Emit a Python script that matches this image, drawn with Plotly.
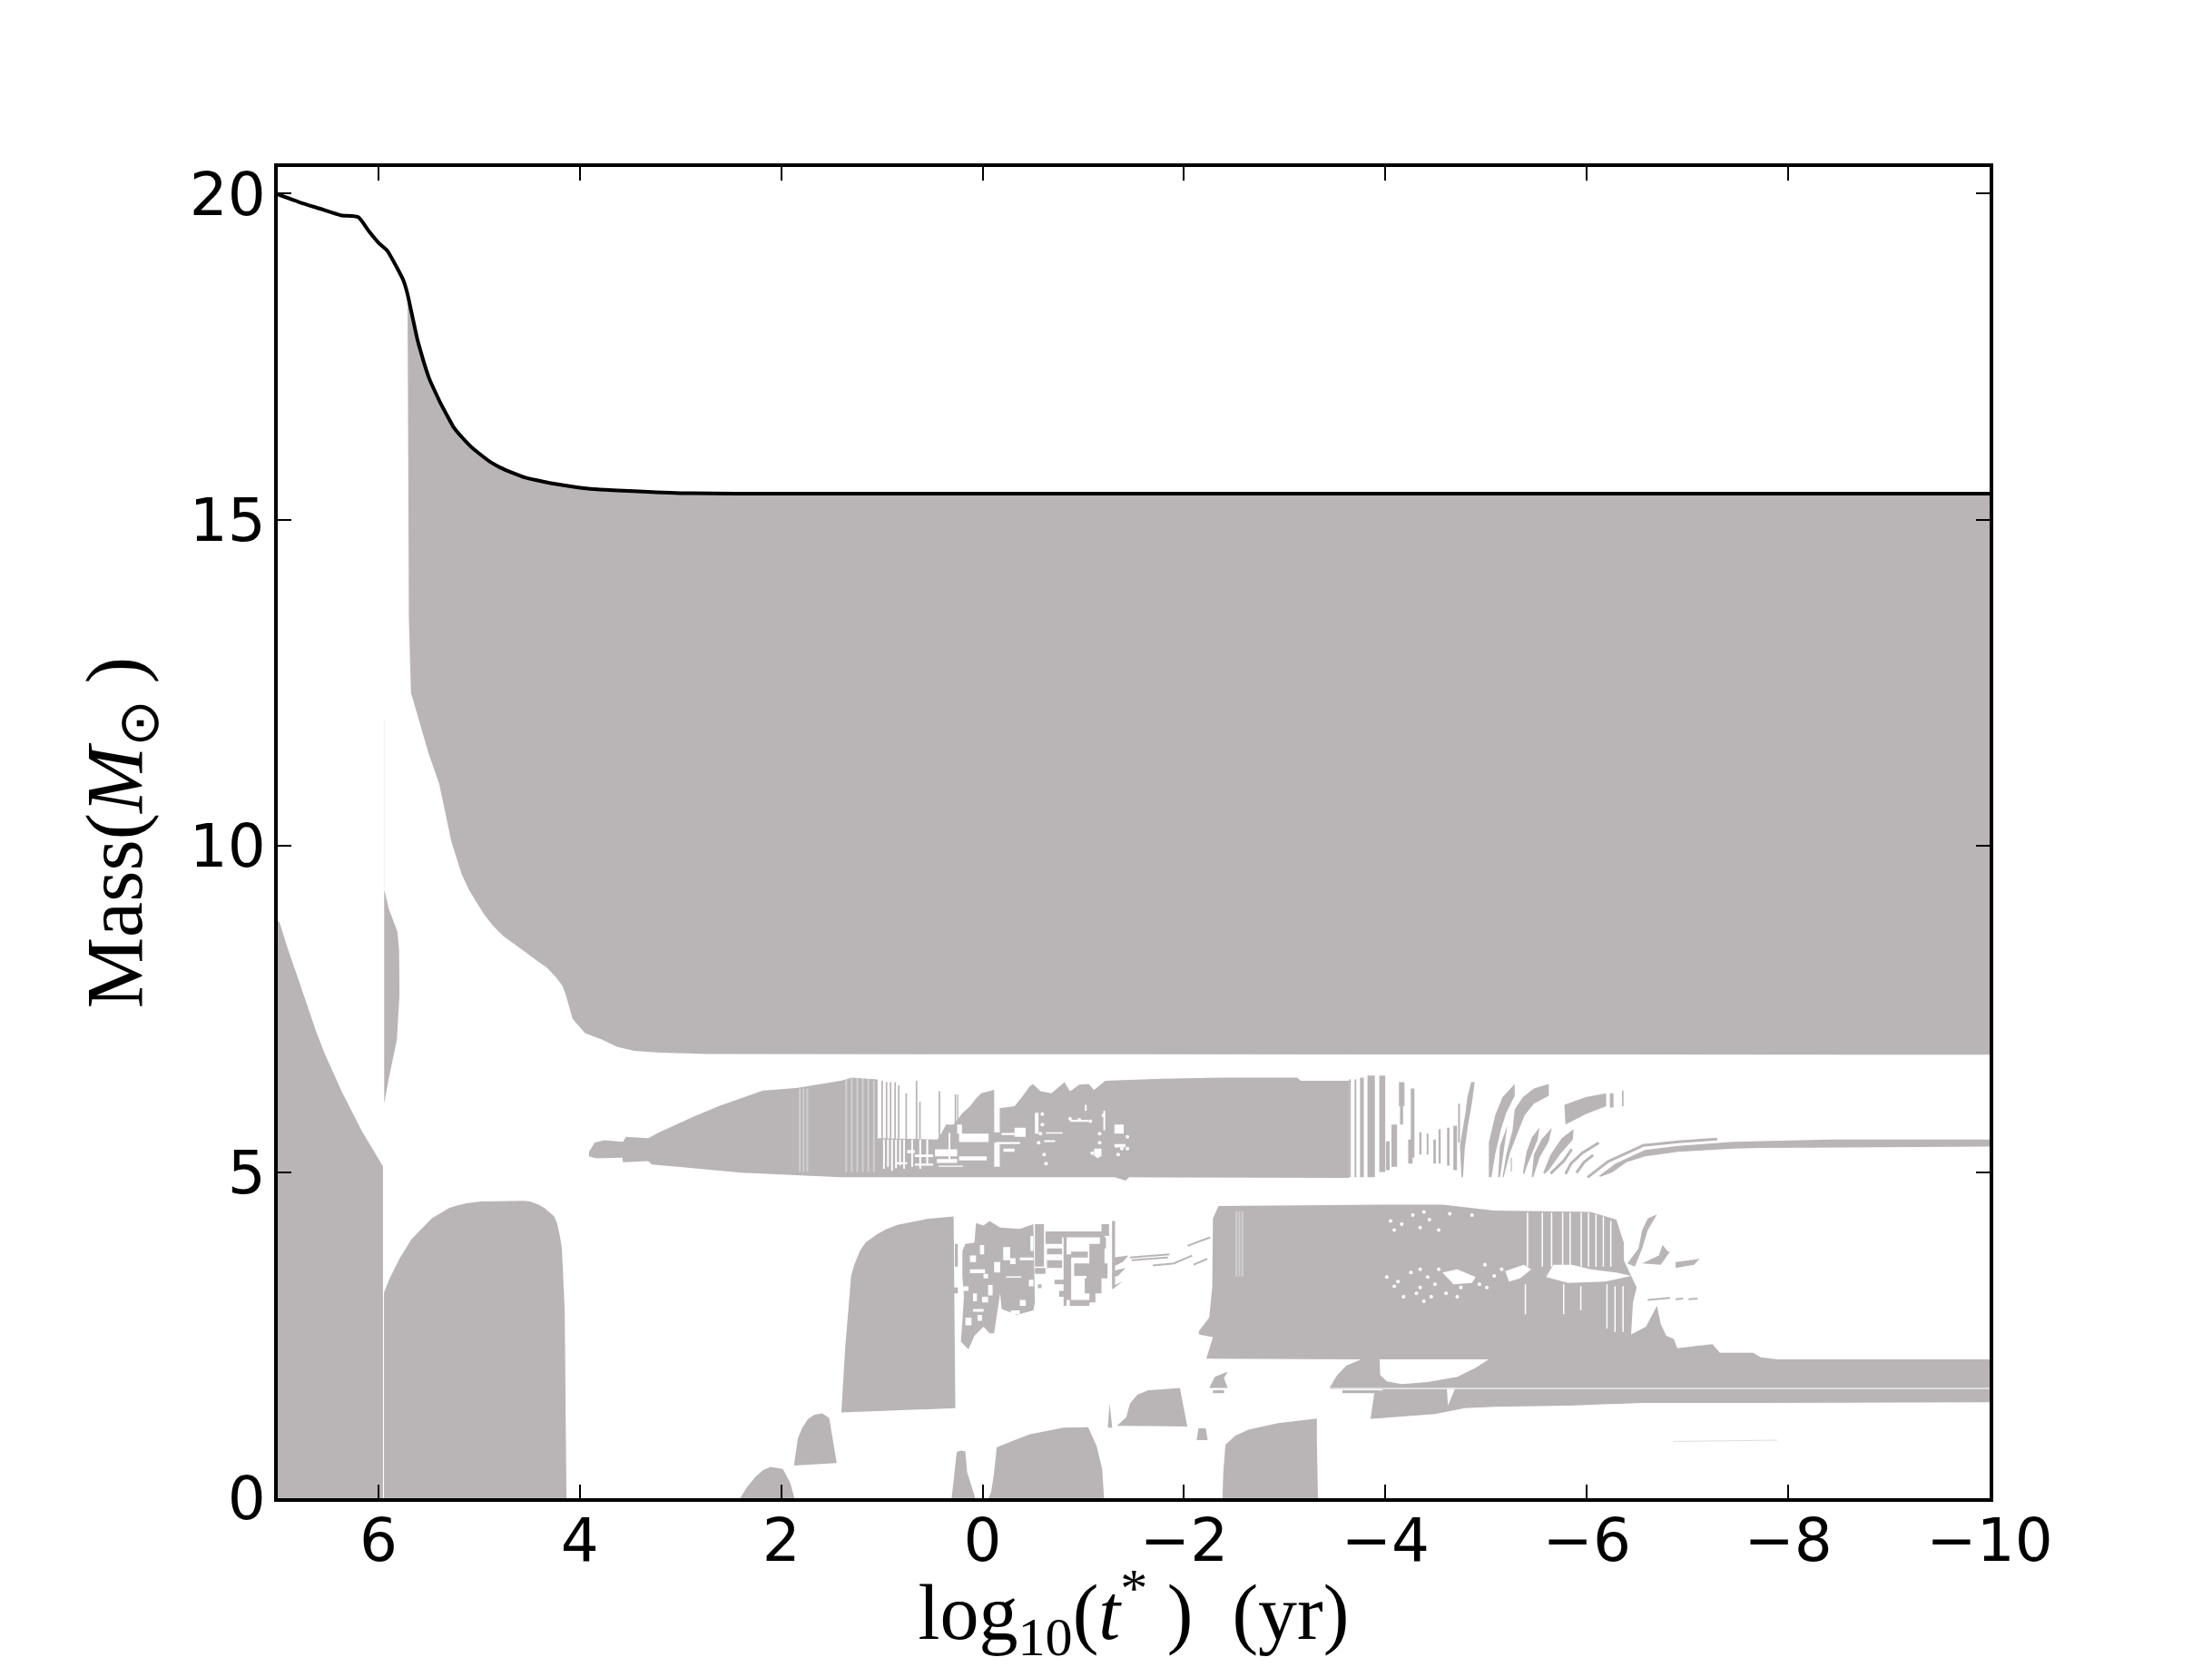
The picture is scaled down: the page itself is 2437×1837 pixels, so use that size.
import plotly.graph_objects as go

GREY = "#b9b5b6"

x_ticks = [6, 4, 2, 0, -2, -4, -6, -8, -10]
y_ticks = [0, 5, 10, 15, 20]

# total stellar mass (black curve)
total_x = [7.0, 6.786, 6.579, 6.373, 6.2, 6.097, 5.994, 5.914, 5.821, 5.752, 5.711, 5.666, 5.614, 5.58, 5.546, 5.494,
           5.442, 5.384, 5.322, 5.253, 5.167, 5.08, 4.994, 4.891, 4.788, 4.667, 4.546, 4.374, 4.202, 4.029, 3.857,
           3.623, 3.0, 2.0, -10.0]
total_y = [19.99, 19.87, 19.77, 19.67, 19.64, 19.43, 19.24, 19.13, 18.88, 18.67, 18.46, 18.14, 17.77, 17.58, 17.4, 17.16,
           16.98, 16.79, 16.61, 16.42, 16.26, 16.12, 16.01, 15.89, 15.8, 15.72, 15.65, 15.59, 15.54, 15.5, 15.47,
           15.45, 15.41, 15.4, 15.4]

# lower edge of the envelope, left to right
envelope_low_x = [5.698, 5.677, 5.588, 5.502, 5.398, 5.347, 5.278, 5.174, 5.105, 5.036, 4.95, 4.864, 4.761, 4.657, 4.537,
                  4.416, 4.33, 4.244, 4.175, 4.14, 4.072, 3.949, 3.777, 3.633, 3.461, 3.202, 2.74, -10.0]
envelope_low_y = [13.5, 12.35, 11.89, 11.42, 10.96, 10.59, 10.08, 9.57, 9.34, 9.16, 8.95, 8.78, 8.62, 8.51, 8.37,
                  8.23, 8.14, 8.0, 7.86, 7.72, 7.35, 7.13, 7.03, 6.92, 6.86, 6.83, 6.81, 6.8]
sliver_x = [4.05, 3.93, 3.77, 3.63]
sliver_y = [7.22, 7.07, 7.0, 6.9]

core_x = [7.0, 7.0, 6.983, 6.897, 6.794, 6.708, 6.622, 6.535, 6.363, 6.162, 5.955, 5.955]
core_y = [0, 8.85, 8.83, 8.41, 7.95, 7.56, 7.17, 6.82, 6.23, 5.62, 5.09, 0]

hump_x = [5.945, 5.945, 5.892, 5.788, 5.673, 5.558, 5.472, 5.386, 5.3, 5.214, 5.127, 4.984, 4.553, 4.495, 4.409, 4.351,
          4.294, 4.254, 4.225, 4.202, 4.179, 4.15, 4.133]
hump_y = [0, 3.15, 3.36, 3.68, 3.97, 4.16, 4.29, 4.37, 4.45, 4.49, 4.52, 4.55, 4.56, 4.55, 4.5, 4.45,
          4.38, 4.32, 4.21, 4.05, 3.84, 2.88, 0]

strip_x = [5.943, 5.898, 5.812, 5.795, 5.791, 5.817, 5.903, 5.938, 5.943]
strip_y = [9.34, 9.04, 8.69, 8.41, 7.72, 7.03, 6.39, 6.07, 6.05]

# the shell band between 5 and 6.5
shell_top_x = [3.909, 3.854, 3.762, 3.571, 3.542, 3.321, 3.211, 2.88, 2.623, 2.384, 2.182, 1.851, 1.704, 1.41, 1.3,
               1.043, 1.043, 0.455, 0.437, 0.363, 0.289, 0.197, 0.124, 0.069, 0.014, -0.115, -0.115, -0.17, -0.17,
               -0.317, -0.39, -0.464, -0.5, -0.574, -0.684, -0.813, -0.868, -0.96, -1.052, -1.107, -1.217, -1.511,
               -1.779, -2.388, -3.123, -3.16, -3.638, -3.638]
shell_top_y = [5.31, 5.45, 5.49, 5.465, 5.54, 5.52, 5.61, 5.845, 6.01, 6.14, 6.25, 6.29, 6.33, 6.4, 6.45,
               6.42, 5.52, 5.5, 5.52, 5.73, 5.73, 5.91, 6.01, 6.12, 6.21, 6.26, 5.61, 5.61, 5.98,
               6.01, 6.15, 6.31, 6.35, 6.24, 6.21, 6.38, 6.24, 6.34, 6.35, 6.26, 6.4, 6.42,
               6.43, 6.45, 6.45, 6.4, 6.4, 4.91]
shell_low_x = [3.909, 3.836, 3.579, 3.571, 3.321, 3.285, 2.88, 2.403, 1.851, 1.41, -1.309, -1.419, -1.456]
shell_low_y = [5.24, 5.21, 5.22, 5.15, 5.17, 5.118, 5.06, 4.99, 4.95, 4.92, 4.92, 4.87, 4.92]

# x0, x1, top, bottom
shell_stripes = [(-3.638, -3.656, 6.42, 4.92), (-3.693, -3.711, 6.42, 4.92), (-3.748, -3.785, 6.45, 4.92),
                 (-3.822, -3.895, 6.48, 4.92), (-3.939, -3.998, 6.48, 5.0), (-4.134, -4.189, 6.38, 6.01),
                 (-4.145, -4.175, 6.01, 5.73), (-4.252, -4.288, 6.28, 5.22), (-4.226, -4.27, 5.5, 5.13),
                 (-4.06, -4.116, 5.73, 5.08), (-4.005, -4.042, 5.47, 5.03), (-4.336, -4.358, 5.61, 5.27),
                 (-4.41, -4.428, 5.59, 5.27), (-4.476, -4.501, 5.5, 5.13), (-4.527, -4.549, 5.66, 5.13),
                 (-4.612, -4.637, 5.68, 5.1), (-4.674, -4.711, 5.71, 5.03), (-4.722, -4.74, 6.05, 5.45),
                 (-5.245, -5.255, 5.22, 5.01), (-6.229, -6.265, 6.21, 5.99), (-6.35, -6.365, 6.25, 6.01),
                 (1.006, 0.99, 6.4, 5.5), (0.962, 0.946, 6.38, 5.5), (0.922, 0.906, 6.38, 5.5),
                 (0.877, 0.861, 6.38, 5.5), (0.841, 0.825, 6.33, 5.5), (0.767, 0.751, 6.21, 5.5),
                 (0.664, 0.648, 6.4, 5.5), (0.631, 0.615, 6.08, 5.5), (0.437, 0.421, 6.24, 5.5),
                 (0.278, 0.262, 6.19, 5.5), (0.253, 0.241, 6.19, 5.5)]

arc_1 = ([-4.851, -4.887, -4.858, -4.821, -4.788, -4.77, -4.755, -4.74, -4.795, -4.814],
         [6.38, 6.38, 6.05, 5.73, 5.36, 4.92, 4.92, 5.4, 5.91, 6.15])
arc_2 = ([-5.284, -5.284, -5.2, -5.145, -5.09, -5.053, -5.027, -5.027, -5.09, -5.163],
         [6.35, 6.17, 5.91, 5.64, 5.27, 4.92, 4.92, 5.45, 5.87, 6.15])
arc_3 = ([-5.211, -5.181, -5.137, -5.119, -5.137], [5.71, 5.4, 4.92, 4.92, 5.4])
arc_5 = ([-5.622, -5.622, -5.475, -5.383, -5.31, -5.236, -5.174, -5.163, -5.2, -5.262, -5.284, -5.365, -5.475],
         [6.35, 6.17, 6.05, 5.87, 5.59, 5.29, 4.92, 4.92, 5.27, 5.64, 5.96, 6.15, 6.28])
arc_6 = ([-5.53, -5.512, -5.402, -5.38, -5.365, -5.402, -5.457], [5.68, 5.5, 5.08, 4.97, 4.99, 5.31, 5.54])
arc_7 = ([-5.652, -5.622, -5.53, -5.468, -5.453, -5.475, -5.549], [5.68, 5.47, 5.22, 4.92, 4.92, 5.27, 5.5])
arc_8 = ([-5.869, -5.861, -5.733, -5.622, -5.578, -5.567, -5.641, -5.751], [5.66, 5.5, 5.27, 5.03, 4.97, 4.99, 5.27, 5.52])
arc_block = ([-5.777, -5.99, -6.192, -6.192, -5.99, -5.788], [6.03, 6.15, 6.21, 6.01, 5.89, 5.73])

# band running on to the right edge
tail_x = [-6.119, -6.284, -6.578, -6.909, -7.453, -8.41, -10.0, -10.0, -7.72, -7.453, -6.909, -6.578, -6.394, -6.247, -6.137]
tail_y = [4.94, 5.13, 5.34, 5.4, 5.465, 5.5, 5.5, 5.39, 5.37, 5.36, 5.31, 5.24, 5.15, 4.99, 4.93]
thin_arcs = [([-5.85, -5.77, -5.641], [5.35, 5.17, 4.98]),
             ([-6.119, -5.953, -5.843, -5.788], [5.45, 5.29, 5.13, 4.97]),
             ([-6.063, -5.971, -5.898], [5.26, 5.15, 4.99]),
             ([-6.008, -6.21, -6.504, -6.559, -6.909, -7.294], [4.92, 5.16, 5.37, 5.41, 5.465, 5.507])]

# white patches in the shell band: x0, x1, top, bottom
shell_holes = [(0.234, -0.059, 5.59, 5.46), (0.473, 0.253, 5.35, 5.24), (0.455, 0.253, 5.2, 5.14),
               (0.234, -0.041, 5.24, 5.18), (0.675, 0.492, 5.27, 5.23), (0.749, 0.675, 5.34, 5.29),
               (-0.133, -0.372, 5.46, 5.43), (-0.188, -0.317, 5.6, 5.57), (-0.317, -0.427, 5.68, 5.54),
               (-0.207, -0.317, 5.36, 5.31), (-0.629, -0.795, 5.61, 5.59), (-0.611, -0.721, 5.49, 5.46),
               (-1.107, -1.18, 5.36, 5.24), (-1.309, -1.401, 5.73, 5.59), (-1.309, -1.419, 5.43, 5.38),
               (-0.115, -0.17, 5.45, 5.08), (0.859, 0.749, 5.15, 5.12), (0.675, 0.492, 5.13, 5.1),
               (0.437, 0.197, 5.1, 5.08), (-0.868, -1.052, 5.8, 5.77), (-0.519, -0.555, 5.91, 5.59),
               (-1.199, -1.217, 5.94, 5.64), (-1.015, -1.033, 6.03, 5.94), (0.253, 0.205, 5.73, 5.59)]
shell_speck_x = [-0.593, -0.593, -0.556, -0.611, -0.629, -0.868, -0.96, -1.07, -1.162, -1.199, -1.162, -1.089, -1.144,
                 -1.328, -1.383, -1.346, -1.438, -1.438, -0.574]
shell_speck_y = [5.89, 5.73, 5.45, 5.27, 5.13, 5.82, 5.8, 5.78, 5.59, 5.87, 5.45, 5.29, 5.24,
                 5.4, 5.36, 5.27, 5.54, 5.36, 5.59]
shell_gap_x = [0.98, 0.94, 0.9, 0.86, 0.82, 0.78, 0.7, 0.62, 0.55, 0.33]
shell_gap_top = [5.5, 5.5, 5.5, 5.5, 5.5, 5.5, 5.5, 5.5, 5.5, 5.6]
shell_gap_bot = [5.05, 5.08, 5.02, 5.06, 5.1, 5.05, 5.08, 5.05, 5.1, 5.2]

# shell burning block left of the patchy area
block_x = [1.403, 1.363, 1.334, 1.306, 1.277, 1.219, 1.162, 1.047, 0.961, 0.846, 0.558, 0.288, 0.271]
block_y = [1.314, 2.35, 2.88, 3.41, 3.57, 3.79, 3.92, 4.05, 4.12, 4.19, 4.28, 4.32, 1.38]

patch_x = [0.201, 0.171, 0.081, 0.066, -0.009, -0.069, -0.174, -0.369, -0.504, -0.519, -0.504, -0.339, -0.189, -0.174,
           -0.114, -0.069, -0.009, 0.081, 0.141, 0.216, 0.201, 0.186, 0.201]
patch_y = [3.79, 3.9, 3.92, 4.22, 4.18, 4.25, 4.15, 4.13, 4.2, 3.0, 2.88, 2.81, 2.9, 3.14, 2.53, 2.53, 2.63, 2.49, 2.28, 2.4, 2.72, 3.09, 3.41]
patch_holes = [(0.027, -0.015, 3.88, 3.74), (-0.204, -0.273, 3.85, 3.65), (-0.273, -0.327, 3.68, 3.59),
               (-0.369, -0.504, 3.69, 3.65), (-0.234, -0.384, 3.4, 3.38), (0.096, 0.057, 3.14, 3.02),
               (0.126, 0.066, 3.72, 3.62), (0.126, -0.024, 3.51, 3.45), (0.201, 0.141, 3.25, 3.18),
               (-0.009, -0.054, 3.44, 3.37), (-0.054, -0.099, 3.27, 3.11), (0.006, -0.054, 3.09, 3.0),
               (-0.369, -0.429, 3.04, 2.95), (-0.279, -0.369, 2.88, 2.82), (0.096, -0.009, 2.9, 2.86),
               (-0.114, -0.174, 3.62, 3.46), (-0.459, -0.504, 3.35, 3.25), (-0.474, -0.504, 4.02, 3.79),
               (0.171, 0.111, 2.77, 2.65), (0.051, 0.006, 2.81, 2.72)]
patch_cells = [(-0.624, -1.21, 4.09, 4.0), (-0.624, -0.789, 4.0, 3.9), (-0.639, -0.789, 3.83, 3.74),
               (-0.639, -0.789, 3.65, 3.53), (-0.519, -0.624, 3.53, 3.44), (-0.714, -0.804, 3.35, 3.28),
               (-0.759, -0.804, 3.18, 3.09), (-0.549, -0.585, 3.28, 3.22), (-0.804, -0.834, 4.02, 2.95),
               (-0.865, -1.06, 3.04, 2.95), (-0.834, -0.879, 3.74, 3.04), (-0.879, -1.045, 3.78, 3.69),
               (-0.909, -1.03, 3.6, 3.41), (-1.03, -1.24, 3.6, 3.37), (-1.014, -1.18, 3.37, 3.14),
               (-1.06, -1.21, 3.9, 3.6), (-1.165, -1.225, 4.0, 3.83), (-1.18, -1.255, 4.2, 4.02),
               (-1.285, -1.315, 4.25, 3.22), (-1.06, -1.12, 3.14, 3.0), (-0.519, -0.609, 4.2, 3.55),
               (0.276, 0.246, 3.9, 3.55), (0.285, 0.246, 3.23, 3.14)]
wedge_1 = ([-1.3, -1.45, -1.39, -1.3], [3.69, 3.72, 3.62, 3.55])
wedge_2 = ([-1.285, -1.42, -1.345, -1.285], [3.48, 3.53, 3.41, 3.39])
wedge_3 = ([-1.285, -1.39, -1.285], [3.25, 3.32, 3.2])
streaks = [([-1.465, -1.66, -1.855], [3.69, 3.72, 3.74]), ([-1.48, -1.84], [3.65, 3.69]),
           ([-1.69, -1.9, -2.08], [3.57, 3.6, 3.72]), ([-2.035, -2.26], [3.87, 4.0]), ([-2.095, -2.23], [3.58, 3.67]),
           ([-6.605, -6.826], [3.04, 3.07]), ([-6.881, -6.955], [3.05, 3.06]), ([-7.01, -7.1], [3.05, 3.06])]

# big convective region, right of log t = -2
upper_x = [-2.221, -2.287, -2.147, -2.147, -2.25, -2.28, -2.287, -2.342, -3.978, -4.566, -5.08, -5.815, -6.036, -6.293,
           -6.367, -6.367, -6.495, -6.458, -6.44, -6.587, -6.697, -6.734, -6.789, -6.863, -6.899, -7.065, -7.248,
           -7.322, -7.653, -7.726, -7.9, -10.0, -10.0, -3.445, -3.518, -3.61, -3.757]
upper_y = [2.14, 2.47, 2.51, 2.56, 2.77, 3.23, 4.29, 4.48, 4.5, 4.5, 4.41, 4.39, 4.39, 4.27,
           3.92, 3.65, 3.23, 3.0, 2.51, 2.63, 2.95, 2.67, 2.49, 2.44, 2.3, 2.33, 2.36,
           2.23, 2.23, 2.16, 2.13, 2.13, 1.69, 1.69, 1.88, 2.03, 2.13]
cavity_x = [-3.941, -3.948, -4.014, -4.161, -4.419, -4.713, -4.896, -5.025]
cavity_y = [2.13, 1.89, 1.79, 1.75, 1.78, 1.86, 2.0, 2.13]
lower_x = [-3.981, -3.889, -3.852, -4.492, -4.786, -5.08, -5.815, -6.55, -7.653, -10.0, -10.0]
lower_y = [1.67, 1.61, 1.216, 1.29, 1.38, 1.4, 1.42, 1.46, 1.46, 1.47, 1.67]
notch_x = [-4.61, -4.694, -4.621]
notch_y = [1.69, 1.69, 1.42]

blob_a = ([-2.25, -2.305, -2.434, -2.397, -2.434], [1.69, 1.86, 1.94, 1.84, 1.69])
dash_a = ([-2.287, -2.397, -2.397, -2.287], [1.655, 1.655, 1.61, 1.61])
dash_b = ([-3.573, -3.941, -3.941, -3.573], [1.655, 1.655, 1.61, 1.61])
blob_1 = ([0.308, 0.272, 0.257, 0.215, 0.172, 0.154, 0.073], [0, 0.45, 0.71, 0.73, 0.72, 0.4, 0])
blob_2 = ([-0.059, -0.085, -0.111, -0.14, -0.3, -0.471, -0.802, -1.048, -1.132, -1.187, -1.206],
          [0, 0.1, 0.36, 0.78, 0.88, 0.98, 1.08, 1.09, 0.8, 0.45, 0])
spike = ([-1.243, -1.261, -1.287], [1.08, 1.45, 1.08])
blob_3 = ([-1.334, -1.426, -1.463, -1.537, -1.647, -1.959, -2.033], [1.11, 1.24, 1.45, 1.59, 1.655, 1.69, 1.1])
blob_small = ([-2.125, -2.143, -2.216, -2.235], [0.89, 1.07, 1.07, 0.89])
blob_4 = ([-2.382, -2.39, -2.411, -2.51, -2.639, -2.933, -3.319, -3.319, -3.33], [0, 0.4, 0.82, 0.96, 1.05, 1.15, 1.22, 0.91, 0])
blob_5 = ([2.409, 2.34, 2.254, 2.18, 2.11, 1.984, 1.909, 1.869], [0, 0.17, 0.33, 0.43, 0.48, 0.45, 0.23, 0])
blob_6 = ([1.874, 1.834, 1.79, 1.736, 1.67, 1.593, 1.524, 1.449], [0.5, 0.92, 1.08, 1.21, 1.28, 1.3, 1.23, 0.54])
finger = ([-6.697, -6.605, -6.55, -6.513, -6.403, -6.477, -6.55, -6.605], [4.35, 4.29, 4.11, 3.83, 3.6, 3.55, 3.83, 4.11])
clump = ([-6.807, -6.752, -6.715, -6.55, -6.734, -6.826], [3.78, 3.88, 3.72, 3.6, 3.58, 3.78])
dashes = ([-6.881, -7.12, -7.065, -6.881], [3.62, 3.67, 3.58, 3.53])

# white mottling inside the big region
mottle_1 = ([-4.566, -4.713, -4.896, -4.86, -4.676], [3.46, 3.51, 3.39, 3.3, 3.28])
mottle_2 = ([-5.19, -5.374, -5.448, -5.337, -5.227], [3.48, 3.58, 3.51, 3.37, 3.32])
mottle_3 = ([-5.595, -5.668, -5.852, -6.036, -6.293, -6.44, -6.183, -5.815], [3.39, 3.58, 3.58, 3.51, 3.46, 3.41, 3.32, 3.3])
speck_x = [-4.051, -4.161, -4.272, -4.345, -4.437, -4.529, -4.088, -4.382, -4.639, -4.86, -4.014, -4.125, -4.253, -4.345,
           -4.419, -4.492, -4.18, -4.382, -4.602, -4.749, -4.988, -5.08, -4.308, -4.088, -4.455, -4.713, -4.933, -5.154,
           -5.007, -4.529, -4.345]
speck_y = [4.25, 4.2, 4.34, 4.15, 4.27, 4.11, 4.11, 4.39, 4.36, 4.34, 3.39, 3.32, 3.46, 3.23,
           3.39, 3.28, 3.09, 3.02, 3.14, 3.23, 3.58, 3.41, 3.14, 3.25, 3.09, 3.09, 3.28, 3.51,
           3.23, 3.51, 3.51]
white_line_x = [-5.411, -5.558, -5.65, -5.76, -5.834, -5.944, -6.017, -6.091, -6.164, -6.238, -5.39, -5.77, -5.94,
                -6.2, -6.28, -6.36]
white_line_top = [4.38, 4.38, 4.38, 4.38, 4.38, 4.38, 4.38, 4.35, 4.32, 4.25, 3.28, 3.28, 3.25, 3.28, 3.25, 3.25]
white_line_bot = [3.55, 3.55, 3.55, 3.55, 3.55, 3.55, 3.55, 3.55, 3.55, 3.55, 2.82, 2.82, 2.88, 2.6, 2.55, 2.55]
faint_x = [1.815, 1.778, 1.741, 1.355, 1.3, 1.245, 1.19, 1.135, 1.08, -2.52, -2.55, -2.58]
faint_top = [6.28, 6.28, 6.28, 6.44, 6.44, 6.44, 6.44, 6.44, 6.4, 4.4, 4.4, 4.4]
faint_bot = [5.0, 5.0, 5.0, 5.0, 5.0, 5.0, 5.0, 5.0, 5.0, 3.4, 3.4, 3.4]


def rect(box):
    x0, x1, top, bot = box
    return ([x0, x1, x1, x0], [top, top, bot, bot])


def join(shapes):
    xs, ys = [], []
    for sx, sy in shapes:
        xs += list(sx) + [None]
        ys += list(sy) + [None]
    return xs, ys


def verticals(xs, tops, bots):
    return join([([x, x], [t, b]) for x, t, b in zip(xs, tops, bots)])


fig = go.Figure()


def add_fill(shapes, color=GREY):
    xs, ys = join(shapes)
    fig.add_trace(go.Scatter(x=xs, y=ys, mode="lines", fill="toself", fillcolor=color,
                             line=dict(width=0, color=color), hoverinfo="skip", showlegend=False))


def add_lines(shapes, color=GREY, width=2, opacity=1):
    xs, ys = join(shapes)
    fig.add_trace(go.Scatter(x=xs, y=ys, mode="lines", line=dict(width=width, color=color), opacity=opacity,
                             hoverinfo="skip", showlegend=False))


env_top = [(x, y) for x, y in zip(total_x, total_y) if x <= 5.711]
env_x = [p[0] for p in env_top] + envelope_low_x[::-1]
env_y = [p[1] for p in env_top] + envelope_low_y[::-1]

add_fill([(env_x, env_y), (core_x, core_y), (hump_x, hump_y), (strip_x, strip_y),
          (shell_top_x + shell_low_x[::-1], shell_top_y + shell_low_y[::-1]),
          (tail_x, tail_y), (block_x, block_y), (patch_x, patch_y),
          (upper_x, upper_y), (lower_x, lower_y)])
add_fill([rect(b) for b in shell_stripes] + [arc_1, arc_2, arc_3, arc_5, arc_6, arc_7, arc_8, arc_block])
add_fill([rect(b) for b in patch_cells] + [wedge_1, wedge_2, wedge_3])
add_fill([blob_a, dash_a, dash_b, blob_1, blob_2, spike, blob_3, blob_small, blob_4, blob_5, blob_6, finger, clump, dashes])

add_lines(thin_arcs, width=3)
add_lines(streaks, width=2)
add_fill([rect(b) for b in shell_holes] + [rect(b) for b in patch_holes], "white")
add_fill([(cavity_x, cavity_y), (notch_x, notch_y), mottle_1, mottle_2, mottle_3], "white")
fig.add_trace(go.Scatter(x=speck_x + shell_speck_x, y=speck_y + shell_speck_y, mode="markers",
                         marker=dict(size=4, color="white"), hoverinfo="skip", showlegend=False))
lx, ly = verticals(white_line_x, white_line_top, white_line_bot)
add_lines([(lx, ly)], color="white", width=1.5)
gx, gy = verticals(shell_gap_x, shell_gap_top, shell_gap_bot)
add_lines([(gx, gy)], color="white", width=2)
fx, fy = verticals(faint_x, faint_top, faint_bot)
add_lines([(fx, fy)], color="white", width=2, opacity=0.35)
add_lines([(sliver_x, sliver_y)], color="white", width=2)
add_lines([([5.943, 5.943], [9.34, 11.93])], color="#eeeeee", width=1)
add_lines([([-10.0, -3.445], [1.68, 1.68])], color="#dcdadb", width=1)
add_lines([([-6.86, -7.89], [0.87, 0.89])], color="#dddddd", width=1)

fig.add_trace(go.Scatter(x=total_x, y=total_y, mode="lines", line=dict(color="black", width=4, shape="spline", smoothing=0.5),
                         hoverinfo="skip", showlegend=False))

axis_style = dict(showgrid=False, zeroline=False, showline=True, linecolor="black", linewidth=4,
                  mirror="ticks", ticks="inside", ticklen=15, tickwidth=2, tickcolor="black",
                  tickfont=dict(family="DejaVu Sans", size=66, color="black"))

fig.update_xaxes(range=[7, -10], tickvals=x_ticks, ticklabelstandoff=-14, **axis_style,
                 title=dict(text="log<sub>10</sub>(<i>t</i><sup>*</sup> )  (yr)", standoff=2,
                            font=dict(family="Liberation Serif", size=86, color="black")))
fig.update_yaxes(range=[0, 20.41], tickvals=y_ticks, ticklabelstandoff=-4, **axis_style,
                 title=dict(text="Mass(<i>M</i><sub>⊙</sub>&#8201;)", standoff=24,
                            font=dict(family="Liberation Serif", size=88, color="black")))
# the page body has an 8px margin, so the figure is 8px smaller than the window;
# plotly draws the axis lines just outside the plot area, hence the extra pixel
fig.update_layout(width=2429, height=1829, margin=dict(l=298, r=244.5, t=175.5, b=185.5),
                  plot_bgcolor="white", paper_bgcolor="white", showlegend=False)

fig.write_html("out.html")
